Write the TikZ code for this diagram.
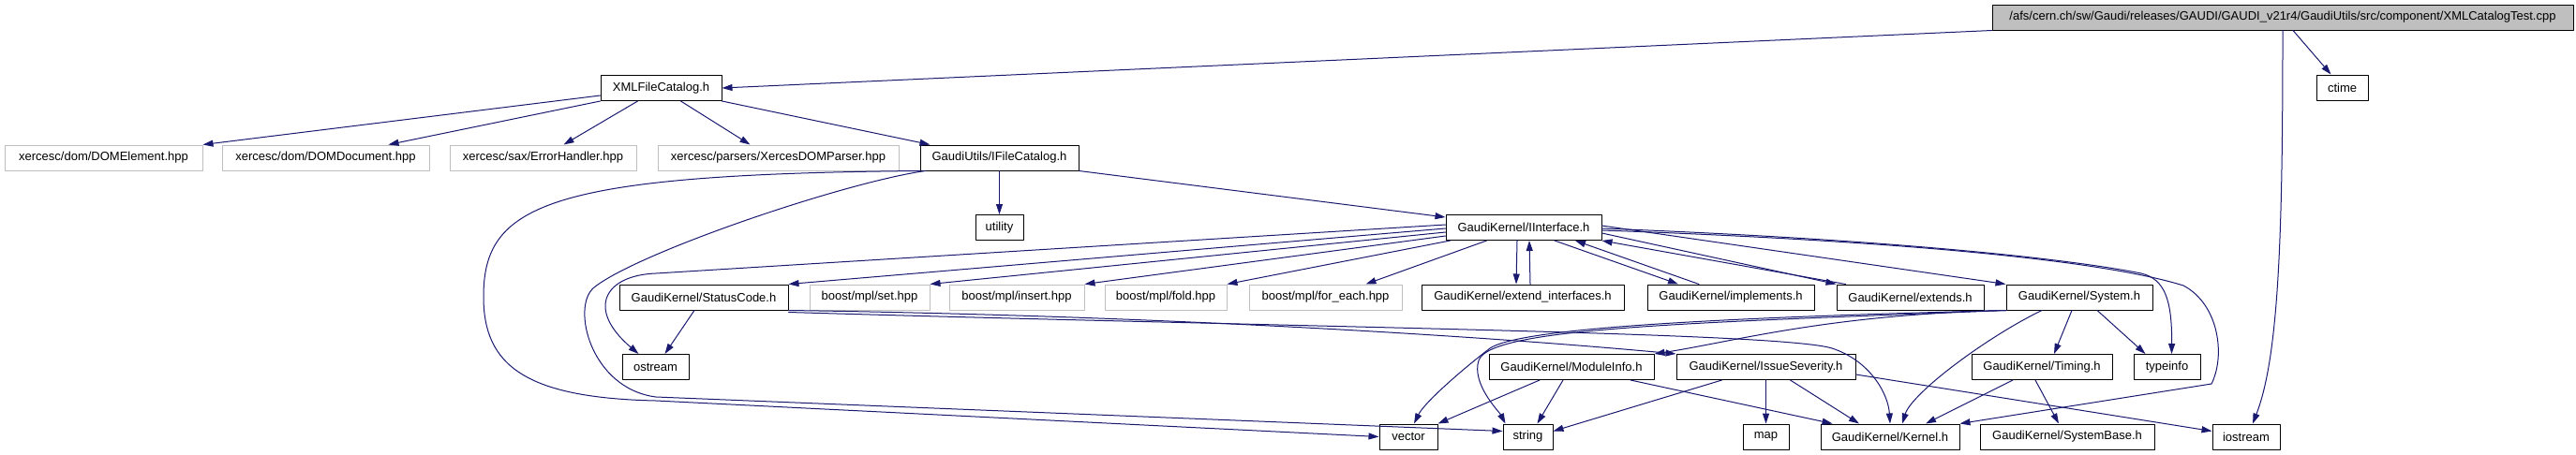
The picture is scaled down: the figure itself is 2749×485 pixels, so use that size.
\documentclass[tikz,border=0pt]{standalone}
\usepackage{fontspec}
\setmainfont{Liberation Sans}
\usepackage{tikz}
\usetikzlibrary{arrows.meta,calc}
\definecolor{edgeblue}{HTML}{191970}
\definecolor{boxgrey}{HTML}{BFBFBF}

\begin{document}
\begin{tikzpicture}[x=1pt,y=-1pt,line cap=round,line join=round,
  hfile/.style={draw=black,fill=white,line width=1pt,inner sep=0pt,minimum height=27pt,font=\fontsize{13}{15}\selectfont},
  extfile/.style={hfile,draw=boxgrey},
  rootfile/.style={hfile,fill=boxgrey},
  incl/.style={draw=edgeblue,line width=1pt,-{Triangle[length=11pt,width=7pt]}}]
\useasboundingbox (0,0) rectangle (2749,485);
% rank 1 and 2
\node[rootfile,minimum width=620pt] (main) at (2436,18.5) {/afs/cern.ch/sw/Gaudi/releases/GAUDI/GAUDI\_v21r4/GaudiUtils/src/component/XMLCatalogTest.cpp};
\node[hfile,minimum width=129pt] (xmlcat) at (705.5,94) {XMLFileCatalog.h};
\node[hfile,minimum width=55pt] (ctime) at (2499.5,93.5) {ctime};
% rank 3
\node[extfile,minimum width=211pt] (domelem) at (110.5,168.5) {xercesc/dom/DOMElement.hpp};
\node[extfile,minimum width=221pt] (domdoc) at (347.5,168.5) {xercesc/dom/DOMDocument.hpp};
\node[extfile,minimum width=199pt] (errhand) at (579.5,168.5) {xercesc/sax/ErrorHandler.hpp};
\node[extfile,minimum width=257pt] (domparser) at (830.5,168.5) {xercesc/parsers/XercesDOMParser.hpp};
\node[hfile,minimum width=169pt] (ifilecat) at (1066.5,168.5) {GaudiUtils/IFileCatalog.h};
% rank 4
\node[hfile,minimum width=51pt] (utility) at (1066.5,243) {utility};
\node[hfile,minimum width=166pt] (iiface) at (1626,243) {GaudiKernel/IInterface.h};
% rank 5
\node[hfile,minimum width=180pt] (statcode) at (751,317.5) {GaudiKernel/StatusCode.h};
\node[extfile,minimum width=128pt] (mplset) at (928,317.5) {boost/mpl/set.hpp};
\node[extfile,minimum width=144pt] (mplinsert) at (1085,317.5) {boost/mpl/insert.hpp};
\node[extfile,minimum width=130pt] (mplfold) at (1244,317.5) {boost/mpl/fold.hpp};
\node[extfile,minimum width=163pt] (mplforeach) at (1414.5,317.5) {boost/mpl/for\_each.hpp};
\node[hfile,minimum width=216pt] (extiface) at (1625,317.5) {GaudiKernel/extend\_interfaces.h};
\node[hfile,minimum width=178pt] (implem) at (1847,317.5) {GaudiKernel/implements.h};
\node[hfile,minimum width=157pt] (extends) at (2038.5,317.5) {GaudiKernel/extends.h};
\node[hfile,minimum width=156pt] (system) at (2219,317.5) {GaudiKernel/System.h};
% rank 6
\node[hfile,minimum width=71pt] (ostream) at (699.5,392) {ostream};
\node[hfile,minimum width=176pt] (modinfo) at (1677,392) {GaudiKernel/ModuleInfo.h};
\node[hfile,minimum width=191pt] (issue) at (1884.5,392) {GaudiKernel/IssueSeverity.h};
\node[hfile,minimum width=150pt] (timing) at (2179,392) {GaudiKernel/Timing.h};
\node[hfile,minimum width=71pt] (typeinfo) at (2312.5,392) {typeinfo};
% rank 7
\node[hfile,minimum width=62pt] (vector) at (1503,466.5) {vector};
\node[hfile,minimum width=53pt] (string) at (1630.5,466.5) {string};
\node[hfile,minimum width=49pt] (map) at (1884.5,466.5) {map};
\node[hfile,minimum width=148pt] (kernel) at (2017,466.5) {GaudiKernel/Kernel.h};
\node[hfile,minimum width=186pt] (sysbase) at (2206,466.5) {GaudiKernel/SystemBase.h};
\node[hfile,minimum width=72pt] (iostream) at (2397,466.5) {iostream};
% XMLCatalogTest.cpp
\draw[incl] (main.south west) -- (xmlcat.east);
\draw[incl] ([xshift=11pt]main.south) -- ([xshift=-12pt]ctime.north);
\draw[incl] (main.south) .. controls (2436,250) and (2432,380) .. ([xshift=7pt]iostream.north);
% XMLFileCatalog.h
\draw[incl] ([yshift=-8pt]xmlcat.west) -- (domelem.north east);
\draw[incl] (xmlcat.south west) -- ([xshift=67pt]domdoc.north);
\draw[incl] ([xshift=-25pt]xmlcat.south) -- ([xshift=22pt]errhand.north);
\draw[incl] ([xshift=21pt]xmlcat.south) -- ([xshift=-30pt]domparser.north);
\draw[incl] (xmlcat.south east) -- ([xshift=11pt]ifilecat.north west);
% IFileCatalog.h
\draw[incl] (ifilecat) -- (utility);
\draw[incl] (ifilecat.south east) -- ([yshift=-3pt]iiface.north west);
\draw[incl] (ifilecat.south west) .. controls (580,186) and (516,220) .. (516,317)
  .. controls (516,390) and (560,425) .. (700,428) -- (vector.west);
\draw[incl] ([xshift=6pt]ifilecat.south west) .. controls (900,195) and (680,270) .. (634,307)
  .. controls (609,327) and (630,415) .. (700,424) -- ([yshift=6pt]string.west);
% IInterface.h
\draw[incl] ([yshift=3pt]iiface.west) -- (700,292) .. controls (645,294) and (625,330) .. ([xshift=-18pt]ostream.north);
\draw[incl] ([yshift=-1pt]iiface.west) -- (statcode.north east);
\draw[incl] ([yshift=-5pt]iiface.west) -- (mplset.north east);
\draw[incl] ([yshift=-9pt]iiface.west) -- (mplinsert.north east);
\draw[incl] ([xshift=5pt]iiface.south west) -- (mplfold.north east);
\draw[incl] ([xshift=44pt]iiface.south west) -- ([xshift=43pt]mplforeach.north);
\draw[incl] ([xshift=-7pt]iiface.south) -- ([xshift=-7pt]extiface.north);
\draw[incl] ([xshift=33pt]iiface.south) -- ([xshift=-56pt]implem.north);
\draw[incl] ([yshift=-6pt]iiface.east) -- (extends.north west);
\draw[incl] ([yshift=2pt]iiface.east) -- (system.north west);
\draw[incl] ([yshift=-1pt]iiface.east) .. controls (2000,255) and (2200,275) .. (2285,292)
  .. controls (2310,298) and (2318,320) .. ([xshift=5pt]typeinfo.north);
\draw[incl] ([yshift=-3pt]iiface.east) .. controls (2050,258) and (2250,280) .. (2330,305)
  .. controls (2368,325) and (2375,380) .. (2360,410) -- (kernel.north east);
% back edges
\draw[incl] ([xshift=8pt]extiface.north) -- ([xshift=6pt]iiface.south);
\draw[incl] ([xshift=-34pt]implem.north) -- ([xshift=55pt]iiface.south);
\draw[incl] ([xshift=10pt]extends.north west) -- (iiface.south east);
% StatusCode.h
\draw[incl] ([xshift=-10pt]statcode.south) -- ([xshift=10pt]ostream.north);
\draw[incl] (statcode.south east) .. controls (1300,338) and (1650,365) .. (issue.north west);
\draw[incl] ([yshift=-2pt]statcode.south east) .. controls (1400,350) and (1900,355) .. (1955,372)
  .. controls (1995,385) and (2015,420) .. (kernel.north);
% System.h
\draw[incl] (system.south west) .. controls (1950,336) and (1850,365) .. (modinfo.north east);
\draw[incl] (system.south west) .. controls (1800,345) and (1590,350) .. (1578,385)
  .. controls (1570,410) and (1600,440) .. ([xshift=-24pt]string.north);
\draw[incl] (system.south west) .. controls (1800,340) and (1620,352) .. (1590,372)
  .. controls (1560,395) and (1520,430) .. ([xshift=6pt]vector.north);
\draw[incl] ([xshift=-40pt]system.south) .. controls (2120,360) and (2040,420) .. ([xshift=13pt]kernel.north);
\draw[incl] ([xshift=-8pt]system.south) -- ([xshift=13pt]timing.north);
\draw[incl] ([xshift=19pt]system.south) -- ([xshift=-23pt]typeinfo.north);
% ModuleInfo.h
\draw[incl] ([xshift=-34pt]modinfo.south) -- (vector.north east);
\draw[incl] ([xshift=-9pt]modinfo.south) -- ([xshift=10pt]string.north);
\draw[incl] ([xshift=63pt]modinfo.south) -- ([xshift=13pt]kernel.north west);
% IssueSeverity.h
\draw[incl] ([xshift=-47pt]issue.south) -- ([yshift=6pt]string.east);
\draw[incl] (issue) -- (map);
\draw[incl] ([xshift=26pt]issue.south) -- ([xshift=-33pt]kernel.north);
\draw[incl] ([yshift=-8pt]issue.east) -- ([yshift=6pt]iostream.west);
% Timing.h
\draw[incl] ([xshift=-31pt]timing.south) -- ([xshift=38pt]kernel.north);
\draw[incl] ([xshift=-7pt]timing.south) -- ([xshift=-9pt]sysbase.north);
\end{tikzpicture}
\end{document}
